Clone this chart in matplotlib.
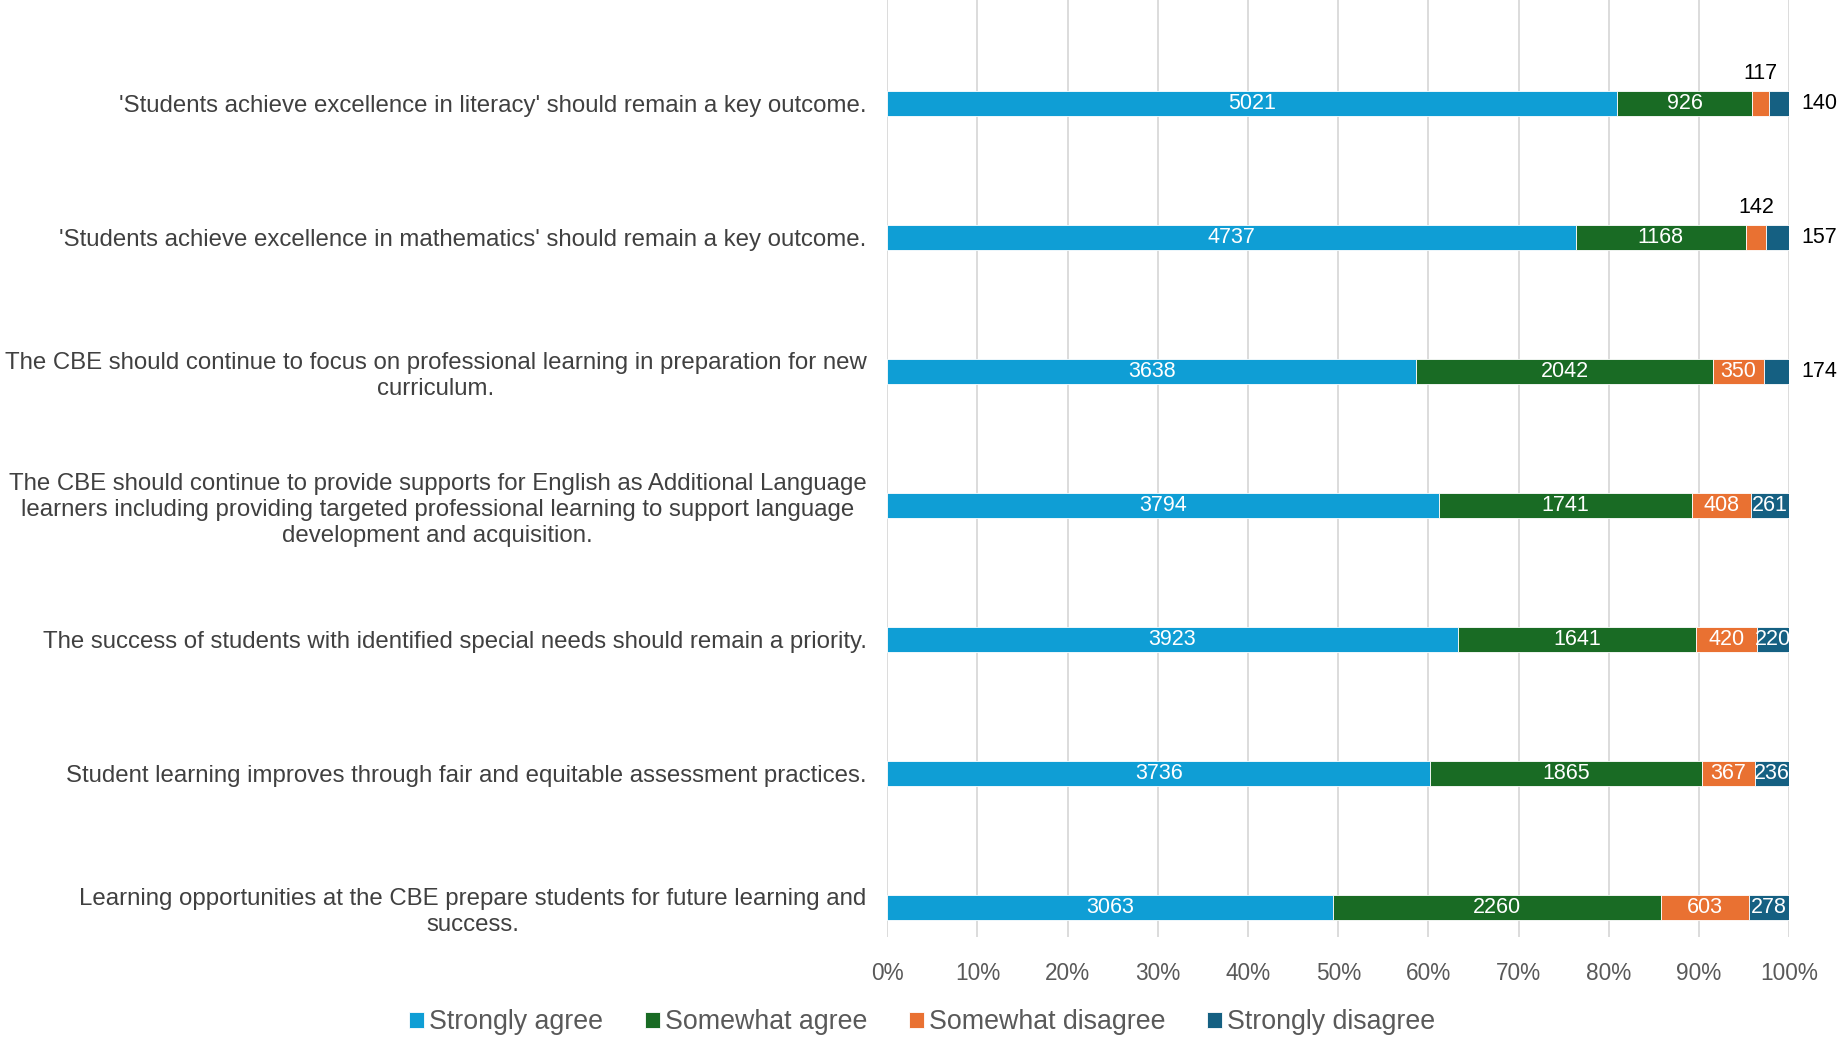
import numpy as np
import matplotlib.pyplot as plt

plt.rcParams['font.family'] = ['Liberation Sans', 'DejaVu Sans']

# survey statements, top to bottom
statements = [
    "'Students achieve excellence in literacy' should remain a key outcome.",
    "'Students achieve excellence in mathematics' should remain a key outcome.",
    "The CBE should continue to focus on professional learning in preparation for new\ncurriculum.",
    "The CBE should continue to provide supports for English as Additional Language\nlearners including providing targeted professional learning to support language\ndevelopment and acquisition.",
    "The success of students with identified special needs should remain a priority.",
    "Student learning improves through fair and equitable assessment practices.",
    "Learning opportunities at the CBE prepare students for future learning and\nsuccess.",
]
responses = ['Strongly agree', 'Somewhat agree', 'Somewhat disagree', 'Strongly disagree']
strongly_agree = [5021, 4737, 3638, 3794, 3923, 3736, 3063]
somewhat_agree = [926, 1168, 2042, 1741, 1641, 1865, 2260]
somewhat_disagree = [117, 142, 350, 408, 420, 367, 603]
strongly_disagree = [140, 157, 174, 261, 220, 236, 278]
colors = ['#0F9ED5', '#196B24', '#E97132', '#156082']
tick_labels = ['0%', '10%', '20%', '30%', '40%', '50%', '60%', '70%', '80%', '90%', '100%']

counts = np.array([strongly_agree, somewhat_agree, somewhat_disagree, strongly_disagree], dtype=float)
shares = counts / counts.sum(axis=0)
n = len(statements)
ypos = np.arange(n)[::-1]

fig = plt.figure(figsize=(18.37, 10.39), dpi=100)
ax = fig.add_axes([0.483, 0.098, 0.491, 0.902])

left = np.zeros(n)
for k in range(4):
    ax.barh(ypos, shares[k], left=left, height=0.19, color=colors[k],
            edgecolor='white', linewidth=0.6, label=responses[k], zorder=3)
    for i in range(n):
        val = int(counts[k, i])
        w = shares[k, i]
        cx = left[i] + w / 2
        if w > 0.033:
            ax.text(cx, ypos[i], str(val), ha='center', va='center',
                    color='white', fontsize=15.5, zorder=4)
        elif k == 2:
            # small orange segments: label sits above the bar
            ax.text(cx, ypos[i] + 0.22, str(val), ha='center', va='center',
                    color='black', fontsize=15.5, clip_on=False)
        else:
            ax.text(left[i] + w + 0.014, ypos[i], str(val), ha='left', va='center',
                    color='black', fontsize=15.5, clip_on=False)
    left += shares[k]

ax.set_xlim(0, 1)
ax.set_ylim(-0.22, 6.77)
ax.set_xticks(np.linspace(0, 1, 11))
ax.set_xticklabels(tick_labels)
ax.set_yticks(ypos)
ax.set_yticklabels(statements, multialignment='center', linespacing=1.25)
ax.tick_params(axis='y', length=0, pad=15, labelsize=17.3, labelcolor='#404040')
ax.tick_params(axis='x', length=0, pad=18, labelsize=16.3, labelcolor='#595959')
ax.grid(axis='x', color='#D9D9D9', linewidth=1.3, zorder=0)
for s in ax.spines.values():
    s.set_visible(False)

fig.legend(loc='center', bbox_to_anchor=(0.502, 0.016), ncol=4, frameon=False,
           fontsize=19.3, labelcolor='#595959', handlelength=0.55, handleheight=0.55,
           handletextpad=0.2, columnspacing=1.55)

fig.savefig('out.png', dpi=100)
